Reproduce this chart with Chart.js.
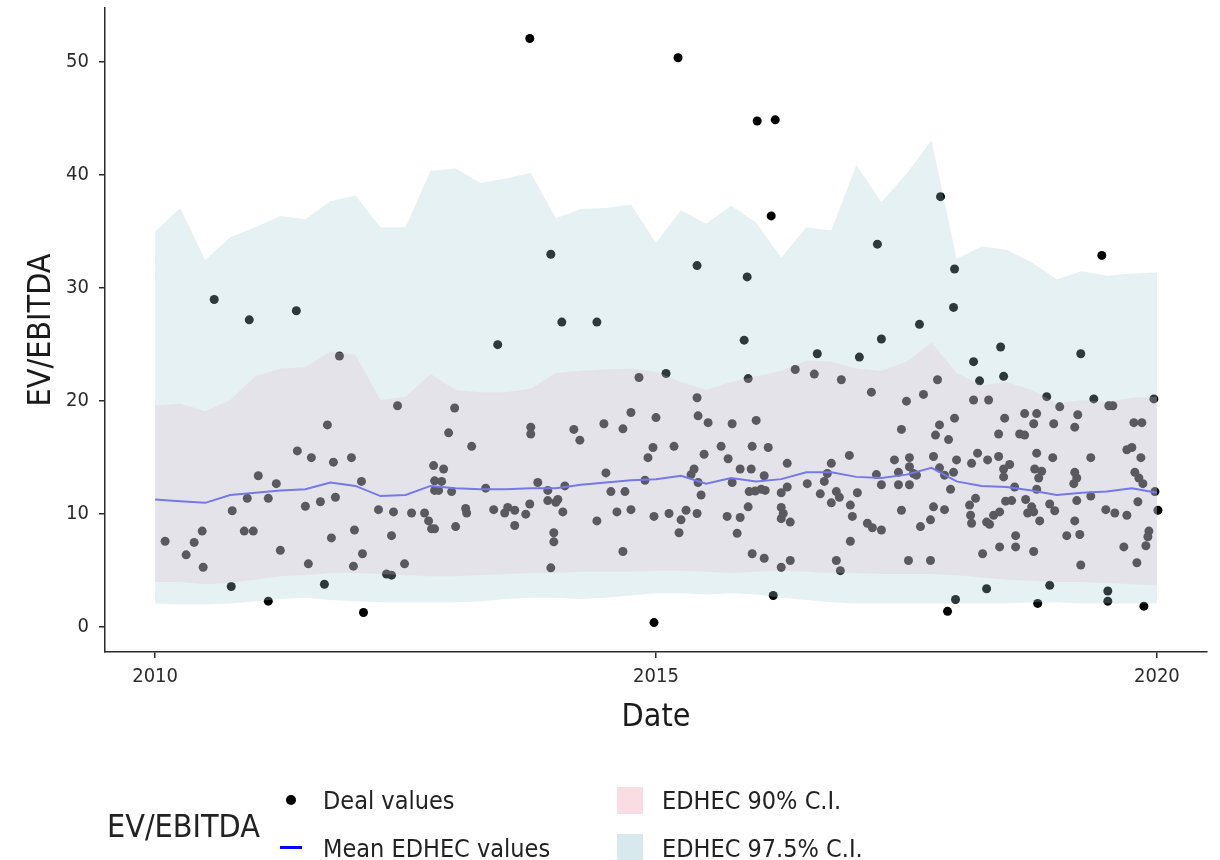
<!DOCTYPE html>
<html>
<head>
<meta charset="utf-8">
<title>EV/EBITDA</title>
<script src="https://cdn.jsdelivr.net/npm/chart.js@4.4.0/dist/chart.umd.min.js"></script>
<style>
  html, body { margin: 0; padding: 0; background: #fff; }
  #wrap { position: relative; width: 1220px; height: 860px; }
  #legend { position: absolute; left: 0; top: 0; width: 1220px; height: 860px; pointer-events: none;
            font-family: "Liberation Sans Narrow", "DejaVu Sans Condensed", "Roboto Condensed", "Liberation Sans", sans-serif; color: #222; }
  .lg { position: absolute; white-space: nowrap; line-height: 1; }
</style>
</head>
<body>
<div id="wrap">
  <canvas id="chart" width="1220" height="860"></canvas>
  <div id="legend"></div>
</div>
<script>
// deal values (date as decimal year, EV/EBITDA multiple)
const dealYears = [
  2010.59, 2010.94, 2011.41, 2013.74, 2013.95, 2014.06, 2014.41, 2015.22, 2015.41, 2015.91,
  2016.01, 2016.19, 2016.15, 2017.21, 2017.84, 2017.98, 2017.97, 2017.63, 2019.45,
  2010.10, 2010.31, 2010.39, 2010.47, 2010.48, 2010.77, 2010.76, 2010.89, 2010.98, 2010.92,
  2011.03, 2011.13, 2011.21, 2011.25, 2011.13,
  2011.84, 2011.72, 2011.42, 2011.56, 2011.78, 2011.96, 2012.06, 2011.50, 2011.65, 2011.80,
  2011.76, 2011.99, 2011.53, 2011.98, 2012.07, 2011.69, 2012.08, 2012.23, 2012.38, 2012.36,
  2012.42, 2012.31, 2012.36, 2012.49, 2012.56, 2012.69, 2012.73, 2012.76, 2012.79, 2012.78,
  2012.88, 2012.79, 2012.86, 2012.83, 2012.96, 2012.79, 2013.00, 2012.93, 2012.99, 2013.10,
  2013.11, 2013.16,
  2013.42, 2013.30, 2013.38, 2013.49, 2013.52, 2013.59, 2013.59, 2013.70, 2013.74, 2013.75,
  2013.75, 2013.82, 2013.92, 2013.92, 2014.02, 2014.00, 2014.09, 2014.07, 2013.98, 2013.98,
  2013.95, 2014.18, 2014.24, 2014.48, 2014.50, 2014.55, 2014.41, 2014.61, 2014.67, 2014.69,
  2014.75, 2014.75, 2014.67, 2014.83, 2014.89, 2014.92, 2014.97, 2015.00, 2014.98, 2014.98,
  2015.10, 2015.88, 2015.92, 2016.61, 2016.39, 2016.58, 2016.85, 2015.41, 2015.42, 2015.52,
  2015.76, 2016.00, 2015.18, 2015.48, 2015.65, 2015.72, 2015.96, 2016.12, 2016.31, 2015.84,
  2015.95, 2016.08, 2015.38, 2015.35, 2015.42, 2015.76, 2015.45, 2015.93, 2015.99, 2016.05,
  2016.09, 2016.25, 2016.31, 2016.51, 2016.64, 2016.68, 2016.71, 2016.75, 2016.75, 2016.80,
  2016.83, 2015.13, 2015.25, 2015.30, 2015.41, 2015.23, 2015.71, 2015.84, 2015.81, 2015.92,
  2016.25, 2016.27, 2016.25, 2016.34, 2015.96, 2016.08, 2016.25, 2016.34, 2016.80, 2016.84,
  2016.17,
  2017.25, 2017.03, 2018.44, 2018.17, 2018.23, 2018.47, 2017.81, 2017.15, 2017.50, 2017.67,
  2018.17, 2018.32, 2017.45, 2017.83, 2017.79, 2017.92, 2017.98, 2018.48, 2018.42, 2018.68,
  2018.63, 2018.68, 2016.93, 2017.38, 2017.53, 2017.77, 2018.00, 2018.15, 2018.21, 2018.31,
  2018.42, 2018.53, 2018.47, 2018.47, 2017.42, 2017.53, 2017.57, 2017.60, 2017.20, 2017.25,
  2017.42, 2017.53, 2017.83, 2017.88, 2017.97, 2017.94, 2018.58, 2017.01, 2016.94, 2016.96,
  2017.45, 2017.77, 2017.88, 2017.11, 2017.16, 2017.25, 2016.94, 2017.64, 2017.74, 2018.13,
  2018.19, 2018.14, 2018.15, 2018.30, 2018.33, 2018.37, 2018.43, 2018.49, 2018.55, 2018.59,
  2018.59, 2018.43, 2018.26, 2018.69, 2018.71, 2017.52, 2017.74, 2018.30, 2017.99, 2017.91,
  2019.24, 2018.90, 2019.03, 2019.37, 2019.52, 2019.56, 2019.97, 2018.80, 2018.77, 2018.97,
  2019.21, 2019.18, 2019.77, 2019.85, 2018.80, 2018.96, 2019.34, 2019.70, 2019.75, 2019.84,
  2018.78, 2018.85, 2018.82, 2019.18, 2019.20, 2019.17, 2018.80, 2019.78, 2019.82, 2019.86,
  2019.98, 2019.20, 2019.34, 2018.75, 2018.77, 2018.93, 2018.98, 2018.83, 2019.81, 2019.49,
  2019.58, 2019.70, 2020.01, 2019.18, 2019.10, 2019.23, 2019.92, 2019.91, 2019.89, 2018.77,
  2019.67, 2019.80, 2019.24, 2018.93, 2019.51, 2019.51, 2018.81, 2019.87
];
const dealValues = [
  29.0, 27.2, 28.0, 52.1, 33.0, 27.0, 27.0, 50.4, 32.0, 31.0,
  44.8, 44.9, 36.4, 33.9, 38.1, 31.7, 28.3, 26.8, 32.9,
  7.6, 6.4, 7.5, 8.5, 5.3, 10.3, 3.6, 8.5, 8.5, 11.4,
  13.4, 11.4, 12.7, 6.8, 2.3,
  24.0, 17.9, 15.6, 15.0, 14.6, 15.0, 12.9, 10.7, 11.1, 11.5,
  7.9, 8.6, 5.6, 5.4, 6.5, 3.8, 1.3, 10.4, 10.2, 8.1,
  19.6, 4.7, 4.6, 5.6, 10.1, 10.1, 9.4, 8.7, 8.7, 14.3,
  14.0, 12.95, 12.9, 12.1, 12.0, 12.1, 8.9, 17.2, 19.4, 10.5,
  10.1, 16.0,
  25.0, 12.3, 10.4, 10.1, 10.6, 10.35, 9.0, 10.0, 10.9, 17.7,
  17.1, 12.8, 12.1, 11.2, 11.3, 11.05, 12.5, 10.2, 8.35, 7.55,
  5.25, 17.5, 16.55, 18.0, 13.65, 12.0, 9.4, 10.2, 17.55, 12.0,
  19.0, 10.4, 6.7, 22.1, 13.0, 15.0, 15.9, 18.55, 9.8, 0.4,
  22.45, 25.4, 22.0, 24.2, 22.8, 22.4, 21.9, 20.3, 18.7, 18.1,
  18.0, 18.3, 16.0, 15.3, 16.0, 14.9, 16.0, 15.9, 14.5, 14.0,
  14.0, 13.4, 14.0, 13.5, 12.8, 12.8, 11.7, 12.0, 12.05, 12.2,
  12.1, 11.9, 12.4, 12.7, 11.8, 12.9, 13.6, 14.5, 11.0, 12.0,
  11.5, 10.06, 9.5, 10.35, 10.06, 8.35, 9.8, 9.7, 8.3, 10.65,
  10.6, 10.06, 9.6, 9.3, 6.5, 6.1, 5.3, 5.9, 5.9, 5.0,
  2.8,
  25.5, 23.9, 24.8, 23.5, 21.8, 22.2, 21.9, 20.8, 20.0, 20.6,
  20.1, 20.1, 17.5, 17.9, 17.0, 16.6, 18.5, 18.5, 17.1, 18.9,
  17.1, 17.0, 15.2, 14.8, 15.0, 15.1, 14.8, 14.5, 15.4, 14.8,
  15.1, 14.4, 14.0, 13.3, 13.7, 14.2, 13.6, 13.45, 13.5, 12.6,
  12.6, 12.6, 14.1, 13.45, 13.7, 12.2, 12.4, 11.9, 10.8, 9.8,
  10.35, 10.65, 10.4, 9.2, 8.8, 8.6, 7.6, 8.9, 9.5, 10.8,
  11.4, 9.9, 9.2, 9.3, 9.1, 9.9, 10.2, 11.15, 11.2, 8.1,
  7.1, 7.1, 6.5, 11.3, 10.1, 5.9, 5.9, 3.4, 2.45, 1.4,
  24.2, 20.4, 19.5, 20.2, 19.6, 19.6, 20.2, 18.9, 18.0, 18.0,
  18.8, 17.7, 18.1, 18.1, 15.4, 15.0, 15.0, 15.7, 15.9, 15.0,
  14.0, 13.8, 13.2, 13.7, 13.2, 12.7, 12.2, 13.7, 13.2, 12.7,
  12.0, 11.2, 11.6, 10.65, 10.2, 10.9, 10.3, 9.4, 11.1, 10.4,
  10.1, 9.9, 10.35, 9.4, 8.1, 8.2, 8.5, 8.0, 7.2, 6.7,
  7.1, 5.7, 5.5, 3.7, 3.2, 2.3, 2.1, 1.86
];

// EDHEC quarterly series
const bandDates = [
  2010.00, 2010.25, 2010.50, 2010.75, 2011.00, 2011.25, 2011.50, 2011.75, 2012.00, 2012.25,
  2012.50, 2012.75, 2013.00, 2013.25, 2013.50, 2013.75, 2014.00, 2014.25, 2014.50, 2014.75,
  2015.00, 2015.25, 2015.50, 2015.75, 2016.00, 2016.25, 2016.50, 2016.75, 2017.00, 2017.25,
  2017.50, 2017.75, 2018.00, 2018.25, 2018.50, 2018.75, 2019.00, 2019.25, 2019.50, 2019.75,
  2020.00
];
const meanEdhec = [
  11.3, 11.15, 11.0, 11.7, 11.9, 12.1, 12.2, 12.8, 12.5, 11.6,
  11.7, 12.5, 12.3, 12.2, 12.2, 12.3, 12.3, 12.6, 12.8, 13.0,
  13.1, 13.4, 12.7, 13.2, 12.9, 13.1, 13.7, 13.7, 13.3, 13.2,
  13.5, 14.1, 12.9, 12.5, 12.4, 12.1, 11.7, 11.9, 12.0, 12.3,
  11.9
];
const upper90 = [
  19.6, 19.8, 19.1, 20.1, 22.2, 22.9, 23.0, 24.4, 24.1, 20.1,
  20.4, 22.4, 21.0, 20.8, 20.8, 21.1, 22.5, 22.7, 22.8, 22.9,
  22.6, 21.7, 21.0, 21.7, 22.2, 22.7, 23.6, 23.5, 22.9, 22.7,
  23.5, 25.2, 22.5, 21.4, 21.7, 21.0, 19.8, 20.1, 19.9, 20.3,
  20.4
];
const lower90 = [
  4.0, 4.0, 3.8, 3.9, 4.2, 4.5, 4.6, 4.8, 4.8, 4.7,
  4.6, 4.5, 4.5, 4.6, 4.7, 4.8, 4.8, 4.9, 4.9, 4.9,
  5.0, 5.0, 4.9, 4.8, 4.9, 5.0, 4.9, 4.8, 4.8, 4.7,
  4.7, 4.7, 4.6, 4.4, 4.2, 4.1, 4.0, 4.0, 3.9, 3.8,
  3.7
];
const upper975 = [
  35.0, 37.1, 32.5, 34.5, 35.4, 36.4, 36.1, 37.7, 38.2, 35.4,
  35.4, 40.4, 40.6, 39.3, 39.7, 40.2, 36.2, 37.0, 37.1, 37.4,
  34.0, 36.9, 35.7, 37.3, 35.8, 32.7, 35.4, 35.1, 40.9, 37.6,
  40.1, 43.1, 32.6, 33.7, 33.4, 32.3, 30.8, 31.5, 31.1, 31.3,
  31.4
];
const lower975 = [
  2.1, 2.0, 2.0, 2.1, 2.3, 2.5, 2.6, 2.4, 2.3, 2.2,
  2.2, 2.2, 2.2, 2.3, 2.5, 2.6, 2.6, 2.5, 2.6, 2.8,
  3.0, 3.0, 2.9, 3.0, 2.9, 2.6, 2.4, 2.2, 2.1, 2.1,
  2.1, 2.1, 2.1, 2.1, 2.1, 2.2, 2.2, 2.1, 2.1, 2.1,
  2.1
];

const xTicks = [2010, 2015, 2020];
const yTicks = [0, 10, 20, 30, 40, 50];

const FONT = '"Liberation Sans Narrow", "DejaVu Sans Condensed", "Roboto Condensed", "Liberation Sans", sans-serif';

function pairs(xs, ys) {
    return xs.map((x, i) => ({ x: x, y: ys[i] }));
}

function bandLine(data, extra) {
    return Object.assign({
        type: 'line',
        data: data,
        borderColor: 'transparent',
        borderWidth: 0,
        pointRadius: 0,
        tension: 0,
        fill: false
    }, extra);
}

const axisColor = '#2b2b2b';

new Chart(document.getElementById('chart').getContext('2d'), {
    type: 'scatter',
    data: {
        datasets: [
            {
                label: 'Deal values',
                data: pairs(dealYears, dealValues),
                backgroundColor: '#000000',
                borderWidth: 0,
                pointRadius: 4.5,
                order: 5
            },
            {
                type: 'line',
                label: 'Mean EDHEC values',
                data: pairs(bandDates, meanEdhec),
                borderColor: 'rgb(50,55,255)',
                borderWidth: 2,
                pointRadius: 0,
                tension: 0,
                fill: false,
                order: 4
            },
            bandLine(pairs(bandDates, lower975), { label: 'lower975', order: 3 }),
            bandLine(pairs(bandDates, upper975), {
                label: 'EDHEC 97.5% C.I.', order: 3,
                fill: { target: 2 }, backgroundColor: 'rgba(162,205,212,0.28)'
            }),
            bandLine(pairs(bandDates, lower90), { label: 'lower90', order: 2 }),
            bandLine(pairs(bandDates, upper90), {
                label: 'EDHEC 90% C.I.', order: 2,
                fill: { target: 4 }, backgroundColor: 'rgba(233,189,207,0.25)'
            })
        ]
    },
    options: {
        responsive: false,
        animation: false,
        layout: { padding: { top: 8, right: 13, bottom: 120, left: 0 } },
        plugins: {
            legend: { display: false },
            tooltip: { enabled: false }
        },
        scales: {
            x: {
                type: 'linear',
                min: 2009.5,
                max: 2020.5,
                afterBuildTicks: s => { s.ticks = xTicks.map(v => ({ value: v })); },
                afterFit: s => { s.height = 88; s.paddingLeft = 0; s.paddingRight = 0; },
                ticks: {
                    callback: v => String(v),
                    color: axisColor,
                    padding: 7,
                    font: { family: FONT, size: 20 }
                },
                grid: { drawOnChartArea: false, drawTicks: true, tickLength: 6, color: axisColor, lineWidth: 1.5 },
                border: { display: true, color: axisColor, width: 1.5 },
                title: {
                    display: true, text: 'Date', color: '#1a1a1a',
                    font: { family: FONT, size: 32 },
                    padding: { top: 0, bottom: 3 }
                }
            },
            y: {
                min: -2.2,
                max: 54.8,
                afterBuildTicks: s => { s.ticks = yTicks.map(v => ({ value: v })); },
                afterFit: s => { s.width = 105; s.paddingTop = 0; s.paddingBottom = 0; },
                ticks: {
                    color: axisColor,
                    padding: 10,
                    font: { family: FONT, size: 20 }
                },
                grid: { drawOnChartArea: false, drawTicks: true, tickLength: 6, color: axisColor, lineWidth: 1.5 },
                border: { display: true, color: axisColor, width: 1.5 },
                title: {
                    display: true, text: 'EV/EBITDA', color: '#1a1a1a',
                    font: { family: FONT, size: 32 },
                    padding: { top: 22, bottom: 0 }
                }
            }
        }
    }
});

// legend below the plot, laid out like the original two-column key
const legendItems = [
    { text: 'EV/EBITDA', left: 107, cy: 826, size: 32 },
    { text: 'Deal values', left: 323, cy: 800, size: 25 },
    { text: 'Mean EDHEC values', left: 323, cy: 848, size: 25 },
    { text: 'EDHEC 90% C.I.', left: 662, cy: 800, size: 25 },
    { text: 'EDHEC 97.5% C.I.', left: 662, cy: 848, size: 25 }
];
const legend = document.getElementById('legend');
legendItems.forEach(it => {
    const d = document.createElement('div');
    d.className = 'lg';
    d.textContent = it.text;
    d.style.left = it.left + 'px';
    d.style.top = (it.cy - it.size / 2) + 'px';
    d.style.fontSize = it.size + 'px';
    legend.appendChild(d);
});
const keys = [
    'left:286px;top:795px;width:10px;height:10px;border-radius:50%;background:#000;',
    'left:280px;top:846px;width:22px;height:3px;background:#0000ff;',
    'left:617px;top:787px;width:26px;height:27px;background:#f9dde2;',
    'left:617px;top:834px;width:26px;height:27px;background:#d8e9ee;'
];
keys.forEach(css => {
    const k = document.createElement('div');
    k.style.cssText = 'position:absolute;' + css;
    legend.appendChild(k);
});
</script>
</body>
</html>
